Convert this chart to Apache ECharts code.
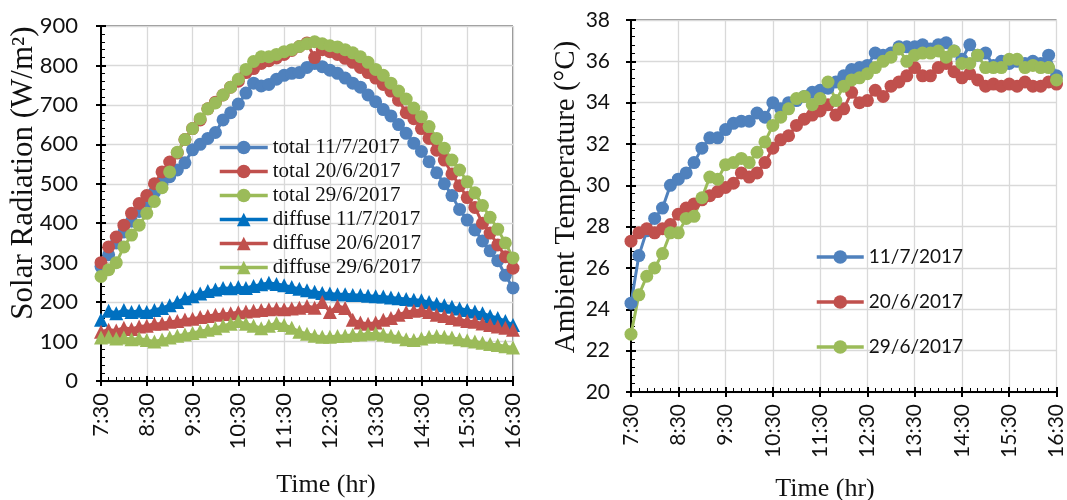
<!DOCTYPE html>
<html><head><meta charset="utf-8">
<script src="https://cdn.jsdelivr.net/npm/echarts@6/dist/echarts.min.js"></script>
<style>html,body{margin:0;padding:0;background:#fff}#c{width:1067px;height:500px}</style>
</head><body><div id="c"></div>
<script>
const times = ['7:30','7:40','7:50','8:00','8:10','8:20','8:30','8:40','8:50','9:00','9:10','9:20','9:30','9:40','9:50','10:00','10:10','10:20','10:30','10:40','10:50','11:00','11:10','11:20','11:30','11:40','11:50','12:00','12:10','12:20','12:30','12:40','12:50','13:00','13:10','13:20','13:30','13:40','13:50','14:00','14:10','14:20','14:30','14:40','14:50','15:00','15:10','15:20','15:30','15:40','15:50','16:00','16:10','16:20','16:30'];
const tickLabels = ['7:30','8:30','9:30','10:30','11:30','12:30','13:30','14:30','15:30','16:30'];

const totalJul11 = [290,320,350,378,405,430,455,478,500,518,535,553,586,600,615,630,662,680,702,730,755,748,752,765,775,780,782,795,805,797,788,780,768,755,745,725,708,688,672,650,628,603,582,556,528,500,470,435,408,383,355,330,305,268,236];
const totalJun20 = [300,340,365,395,425,450,470,500,530,555,578,612,640,662,690,707,725,745,760,782,792,805,812,819,828,838,848,857,820,840,835,828,818,808,795,782,768,752,735,712,680,665,640,615,585,560,525,495,465,440,400,375,345,315,286];
const totalJun29 = [265,282,300,340,370,395,425,455,490,530,580,612,640,665,690,705,725,745,765,790,810,822,822,828,835,840,848,855,860,855,850,847,840,832,822,808,790,775,755,735,715,692,670,645,615,590,560,535,505,477,445,415,385,350,312];
const diffuseJul11 = [155,178,172,180,175,178,175,180,185,192,200,210,215,222,228,232,236,235,238,236,241,245,249,246,243,238,234,230,226,223,222,220,220,218,218,216,215,214,212,210,208,206,205,200,196,192,188,184,180,176,172,165,160,152,142];
const diffuseJun20 = [125,130,128,135,132,138,140,145,146,150,152,156,158,162,165,168,170,172,174,176,178,180,182,183,182,184,186,190,186,200,175,190,185,155,148,145,148,155,160,168,175,178,180,175,168,165,160,156,152,150,146,142,138,135,130];
const diffuseJun29 = [110,112,108,110,106,108,104,100,105,110,115,118,122,126,130,134,140,145,152,145,140,134,140,147,142,135,125,120,115,112,112,114,115,117,118,120,121,118,115,112,106,104,108,112,114,112,110,106,103,100,97,94,91,88,85];

const tempJul11 = [24.3,26.6,27.8,28.4,28.9,30.0,30.3,30.6,31.1,31.8,32.3,32.3,32.7,33.0,33.1,33.1,33.5,33.3,34.0,33.7,34.0,34.1,34.3,34.5,34.6,34.7,35.0,35.3,35.6,35.7,35.8,36.4,36.3,36.4,36.7,36.7,36.7,36.8,36.6,36.8,36.9,36.5,36.1,36.8,36.3,36.4,35.8,36.0,35.9,36.0,35.9,36.0,35.9,36.3,35.3];
const tempJun20 = [27.3,27.7,27.9,27.7,27.9,28.1,28.6,28.9,29.1,29.3,29.5,29.7,29.9,30.1,30.6,30.4,30.6,31.1,31.8,32.2,32.4,32.9,33.2,33.4,33.6,33.9,33.4,33.7,34.5,34.0,34.1,34.6,34.3,34.8,35.0,35.3,35.7,35.3,35.3,35.7,35.9,35.5,35.2,35.4,35.1,34.8,34.9,34.8,34.9,34.8,35.0,34.8,34.8,35.0,34.9];
const tempJun29 = [22.8,24.7,25.6,26.0,26.7,27.7,27.7,28.4,28.5,29.4,30.4,30.3,31.0,31.1,31.3,31.1,31.6,32.1,32.9,33.3,33.7,34.2,34.3,33.9,34.2,35.0,34.1,34.8,35.1,35.2,35.4,35.7,36.0,36.2,36.6,36.0,36.3,36.4,36.4,36.5,36.2,36.5,35.9,35.9,36.3,35.7,35.7,35.7,36.1,36.1,35.7,35.8,35.7,35.7,35.1];

const leftNames = ['total 11/7/2017','total 20/6/2017','total 29/6/2017','diffuse 11/7/2017','diffuse 20/6/2017','diffuse 29/6/2017'];
const rightNames = ['11/7/2017','20/6/2017','29/6/2017'];

const chart = echarts.init(document.getElementById('c'));
const toMin = t => { const p = t.split(':').map(Number); return p[0]*60 + p[1] - 450; };
const xs = times.map(toMin);
const pairs = arr => arr.map((v,i) => [xs[i], v]);

const BLACK = '#000';
function mainX(gi, fs){ return {type:'value', gridIndex:gi, position:'bottom', min:0, max:540, interval:60,
  axisLine:{show:true, onZero:false, lineStyle:{color:BLACK, width:2}},
  axisTick:{show:true, inside:true, length:5, lineStyle:{color:BLACK, width:2}},
  minorTick:{show:true, splitNumber:6, length:4, lineStyle:{color:BLACK, width:1}},
  splitLine:{show:true, lineStyle:{color:'#d9d9d9', width:1.3}},
  axisLabel:{rotate:90, margin:12, fontFamily:'Lato', fontSize:fs, color:'#111',
    formatter: v => tickLabels[Math.round(v/60)] }}; }
function overX(gi){ return {type:'value', gridIndex:gi, position:'bottom', min:0, max:540, interval:60,
  axisLine:{show:false}, axisTick:{show:true, inside:false, length:5, lineStyle:{color:BLACK, width:2}},
  axisLabel:{show:false}, splitLine:{show:false}}; }
function mainY(gi, min, max, itv, fs, mg){ return {type:'value', gridIndex:gi, position:'left', min, max, interval:itv,
  axisLine:{show:true, onZero:false, lineStyle:{color:BLACK, width:2}},
  axisTick:{show:true, inside:true, length:5, lineStyle:{color:BLACK, width:2}},
  minorTick:{show:true, splitNumber:5, length:4, lineStyle:{color:BLACK, width:1}},
  splitLine:{show:true, lineStyle:{color:'#d9d9d9', width:1.3}},
  axisLabel:{margin:mg, fontFamily:'Lato', fontSize:fs, color:'#111'}}; }
function overY(gi, min, max, itv){ return {type:'value', gridIndex:gi, position:'left', min, max, interval:itv,
  axisLine:{show:false}, axisTick:{show:true, inside:false, length:5, lineStyle:{color:BLACK, width:2}},
  axisLabel:{show:false}, splitLine:{show:false}}; }

function ser(name, data, color, symbol, idx){
  return {name, type:'line', xAxisIndex:idx, yAxisIndex:idx, data:pairs(data), symbol,
    symbolSize: symbol === 'triangle' ? 14 : 13, showSymbol:true, clip:false,
    lineStyle:{color, width:3}, itemStyle:{color}, emphasis:{disabled:true}};
}

const serifFont = '"Liberation Serif", "Times New Roman", serif';

chart.setOption({
  animation:false,
  grid:[
    {left:101, top:26, width:412, height:355, show:true, borderColor:'#222', borderWidth:1},
    {left:631, top:20, width:426, height:372, show:true, borderColor:'#222', borderWidth:1}
  ],
  xAxis:[mainX(0,22), mainX(1,21), overX(0), overX(1)],
  yAxis:[mainY(0,0,900,100,22,23), mainY(1,20,38,2,21,21), overY(0,0,900,100), overY(1,20,38,2)],
  legend:[
    {orient:'vertical', left:218, top:137, padding:0, itemWidth:48, itemHeight:17, itemGap:3,
      lineStyle:{width:3.5},
      textStyle:{fontFamily:serifFont, fontSize:21, lineHeight:20, color:'#111'}, data:leftNames},
    {orient:'vertical', left:815, top:247, padding:0, itemWidth:47, itemHeight:17, itemGap:25,
      lineStyle:{width:3.5},
      textStyle:{fontFamily:'Lato', fontSize:19, lineHeight:20, color:'#111'}, data:rightNames}
  ],
  graphic:[
    {type:'text', x:24, y:173, rotation:Math.PI/2, style:{text:'Solar Radiation (W/m²)', font:'31px ' + serifFont, fill:'#111', align:'center', verticalAlign:'middle'}},
    {type:'text', x:566, y:197, rotation:Math.PI/2, style:{text:'Ambient Temperature (°C)', font:'29px ' + serifFont, fill:'#111', align:'center', verticalAlign:'middle'}},
    {type:'text', x:326, y:485, style:{text:'Time (hr)', font:'26px ' + serifFont, fill:'#111', align:'center', verticalAlign:'middle'}},
    {type:'text', x:825, y:489, style:{text:'Time (hr)', font:'26px ' + serifFont, fill:'#111', align:'center', verticalAlign:'middle'}}
  ],
  series:[
    ser(leftNames[0], totalJul11, '#4f81bd', 'circle', 0),
    ser(leftNames[1], totalJun20, '#c0504d', 'circle', 0),
    ser(leftNames[2], totalJun29, '#9bbb59', 'circle', 0),
    ser(leftNames[3], diffuseJul11, '#0070c0', 'triangle', 0),
    ser(leftNames[4], diffuseJun20, '#c0504d', 'triangle', 0),
    ser(leftNames[5], diffuseJun29, '#9bbb59', 'triangle', 0),
    ser(rightNames[0], tempJul11, '#4f81bd', 'circle', 1),
    ser(rightNames[1], tempJun20, '#c0504d', 'circle', 1),
    ser(rightNames[2], tempJun29, '#9bbb59', 'circle', 1)
  ]
});
</script>
</body></html>
